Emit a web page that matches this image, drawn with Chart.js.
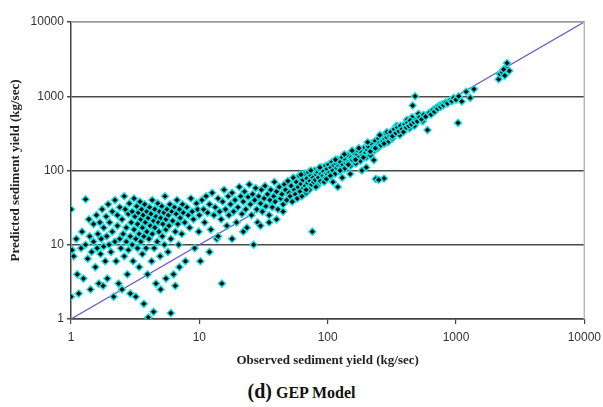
<!DOCTYPE html>
<html>
<head>
<meta charset="utf-8">
<script src="https://cdn.jsdelivr.net/npm/chart.js@4/dist/chart.umd.min.js"></script>
<style>
  html, body { margin: 0; padding: 0; background: #fff; overflow: hidden; }
  #wrap { position: relative; width: 603px; height: 407px; overflow: hidden; }
  #box { position: absolute; left: 0; top: 0; width: 607px; height: 374px; }
  #caption {
    position: absolute; left: 0; top: 380px; width: 603px; text-align: center;
    font-family: "Liberation Serif", "Times New Roman", serif; font-weight: bold; color: #111;
  }
  #caption .d { font-size: 20px; }
  #caption .m { font-size: 16px; }
</style>
</head>
<body>
<div id="wrap">
  <div id="box"><canvas id="chart"></canvas></div>
  <div id="caption"><span class="d">(d)</span> <span class="m">GEP Model</span></div>
</div>
<script>
"use strict";

// decade ticks shared by both log axes
const decadeTicks = [1, 10, 100, 1000, 10000];

// 1:1 reference line end points
const lineX = [1, 10000];
const lineY = [1, 10000];

// observed (x) vs predicted (y) sediment yield, kg/sec
const observed = [
  1.0, 1.0, 1.02, 1.05, 1.1, 1.12, 1.15, 1.2, 1.22, 1.25, 1.3, 1.3, 1.35, 1.38, 1.4, 1.42, 1.45, 1.5, 1.5, 1.55,
  1.58, 1.6, 1.62, 1.65, 1.68, 1.7, 1.72, 1.75, 1.78, 1.8, 1.8, 1.85, 1.88, 1.9, 1.92, 1.95, 1.98, 2.0,
  2.05, 2.1, 2.1, 2.15, 2.2, 2.2, 2.25, 2.3, 2.3, 2.35, 2.4, 2.4, 2.45, 2.5, 2.5, 2.55, 2.6, 2.6, 2.65, 2.7,
  2.7, 2.75, 2.8, 2.8, 2.85, 2.9, 2.9, 2.95, 3.0, 3.0, 3.05, 3.1, 3.1, 3.15, 3.2, 3.2, 3.25, 3.3, 3.3, 3.35,
  3.4, 3.4, 3.45, 3.5, 3.5, 3.55, 3.6, 3.6, 3.65, 3.7, 3.7, 3.75, 3.8, 3.85, 3.9, 3.9, 3.95, 4.0,
  4.0, 4.05, 4.1, 4.15, 4.2, 4.25, 4.3, 4.3, 4.4, 4.4, 4.45, 4.5, 4.5, 4.6, 4.6, 4.7, 4.75, 4.8, 4.85, 4.9,
  4.95, 5.0, 5.0, 5.1, 5.15, 5.2, 5.3, 5.35, 5.4, 5.5, 5.5, 5.6, 5.7, 5.75, 5.8, 5.9, 6.0, 6.0, 6.1, 6.2,
  6.3, 6.4, 6.5, 6.6, 6.7, 6.8, 6.9, 7.0, 7.1, 7.3, 7.4, 7.5, 7.7, 7.8, 8.0, 8.2, 8.4, 8.6, 8.8, 9.0,
  9.2, 9.5, 9.7, 9.9, 10, 5.5, 6.5, 7.0,
  10.2, 10.5, 10.8, 11, 11.3, 11.6, 12, 12.3, 12.6, 13, 13.3, 13.7, 14, 14.4, 14.8, 15, 15.2, 15.6, 16, 16.4,
  16.8, 17, 17.5, 18, 18.5, 19, 19.5, 20, 20.5, 21, 21.5, 22, 22.5, 23, 23.5, 24, 24.5, 25, 25.5, 26,
  26.5, 27, 27.5, 28, 28.5, 29, 30, 30.5, 31, 32, 32.5, 33, 34, 35, 35.5, 36, 37, 38, 38.5, 39,
  40, 41, 42, 43, 44, 45, 46, 47, 48, 49, 50, 12, 14, 18, 22, 30, 35, 40, 45,
  51, 52, 53, 54, 55, 56, 57, 58, 59, 60, 61, 62, 63, 64, 65, 66, 67, 68, 69, 70,
  71, 72, 73, 74, 75, 76, 77, 78, 79, 80, 82, 83, 84, 85, 86, 88, 89, 90, 92, 93,
  95, 96, 98, 99, 100, 62, 68, 74, 81, 87, 94,
  102, 104, 106, 108, 110, 112, 114, 116, 118, 120, 122, 124, 126, 128, 130, 132, 135, 138, 140, 143,
  146, 150, 153, 156, 160, 163, 166, 170, 173, 176, 180, 184, 188, 192, 196, 200, 204, 208, 212, 216,
  220, 225, 230, 235, 240, 245, 250, 255, 260, 265, 270, 275, 280, 285, 290, 295, 300,
  98, 130, 150, 185, 200, 229, 237, 250, 110, 120,
  105, 115, 125, 135, 145, 155, 165, 175, 190, 205, 215, 235, 255, 275, 290, 320, 345, 365, 395, 415,
  435, 455, 475, 510, 550,
  310, 320, 330, 340, 350, 360, 370, 380, 390, 400, 410, 420, 430, 440, 450, 460, 470, 480, 490, 500,
  520, 540, 560, 580, 600, 620, 640, 660, 680, 700, 720, 740, 760, 780, 800, 830, 860, 900, 930, 960,
  1000, 1037, 1050, 1110, 1290, 1380, 1200,
  2150, 2200, 2300, 2400, 2450, 2500, 2600, 2350
];
const predicted = [
  30, 2.0, 8.5, 7, 12, 4, 2.2, 9, 15, 3.5, 41, 10, 6.5, 22, 13, 2.5, 8, 11, 19, 5,
  25, 9, 14, 3, 20, 7.5, 12, 30, 2.8, 17, 9.5, 6, 24, 13, 3.5, 35, 10, 20,
  8, 28, 15, 2, 11, 40, 6, 18, 25, 3, 12, 32, 9, 2.5, 22, 14, 45, 7, 30, 17,
  11, 4, 26, 8.5, 36, 13, 2.2, 20, 10, 28, 6, 42, 16, 24, 12, 2.0, 33, 9, 19, 27,
  14, 5, 38, 22, 11, 30, 17, 7.5, 25, 13, 1.6, 35, 20, 9, 28, 15, 4, 23,
  1.05, 12, 32, 18, 26, 6, 40, 14, 21, 1.25, 9, 30, 17, 24, 3, 11, 36, 20, 15, 28,
  7, 23, 2.5, 33, 13, 19, 27, 10, 45, 22, 16, 30, 8, 25, 18, 35, 12, 1.2, 28, 21,
  4, 32, 15, 26, 40, 19, 10, 30, 23, 14, 35, 27, 20, 6, 32, 25, 17, 42, 28, 22,
  9, 36, 30, 15, 25, 3.5, 2.8, 5,
  6, 40, 30, 20, 45, 27, 35, 16, 50, 25, 32, 12, 42, 28, 22, 3, 38, 55, 30, 18,
  45, 25, 35, 50, 28, 40, 20, 32, 60, 45, 26, 38, 52, 30, 17, 44, 65, 35, 25, 48,
  10, 40, 58, 30, 20, 45, 36, 55, 28, 42, 62, 33, 48, 25, 40, 55, 32, 45, 70, 38,
  52, 30, 60, 42, 48, 35, 65, 55, 40, 72, 50, 8, 13, 12, 15, 18, 20, 22, 28,
  45, 62, 38, 80, 55, 48, 70, 42, 60, 85, 52, 66, 45, 75, 58, 90, 62, 50, 78, 68,
  95, 55, 72, 85, 65, 15, 80, 70, 100, 75, 88, 62, 95, 80, 105, 72, 90, 110, 85, 98,
  78, 115, 92, 105, 88, 88, 55, 100, 60, 110, 70,
  120, 95, 110, 130, 100, 118, 90, 125, 108, 140, 115, 98, 130, 112, 150, 120, 105, 140, 125, 160,
  130, 115, 150, 140, 170, 145, 125, 160, 185, 150, 135, 175, 160, 200, 170, 150, 190, 210, 175, 160,
  230, 200, 185, 250, 215, 200, 270, 235, 220, 290, 250, 78, 265, 310, 280, 240, 300,
  77, 80, 90, 100, 110, 138, 77, 75, 70, 60,
  85, 140, 100, 165, 120, 185, 140, 200, 150, 240, 180, 200, 300, 230, 330, 270, 400, 300, 360, 480,
  370, 520, 400, 580, 460,
  330, 290, 360, 320, 380, 340, 400, 360, 330, 420, 380, 440, 400, 470, 420, 750, 450, 1000, 480, 460,
  520, 490, 560, 530, 350, 600, 570, 650, 620, 700, 680, 750, 720, 780, 760, 820, 800, 880, 860, 950,
  900, 437, 1000, 850, 950, 1250, 1150,
  1700, 2000, 2100, 1900, 2400, 2800, 2200, 2300
];

const points = observed.map((x, i) => ({ x: x, y: predicted[i] }));
const refLine = lineX.map((x, i) => ({ x: x, y: lineY[i] }));

// light grey top/right frame like the original plot box
const framePlugin = {
  id: "frame",
  afterDraw(chart) {
    const a = chart.chartArea, ctx = chart.ctx;
    ctx.save();
    ctx.strokeStyle = "#b8b8b8";
    ctx.lineWidth = 1.5;
    ctx.beginPath();
    ctx.moveTo(a.left, a.top);
    ctx.lineTo(a.right, a.top);
    ctx.lineTo(a.right, a.bottom);
    ctx.stroke();
    ctx.restore();
  }
};

const fixDecades = axis => {
  axis.ticks = decadeTicks.map(v => ({ value: v }));
};

new Chart(document.getElementById("chart"), {
  data: {
    datasets: [
      {
        type: "line", data: refLine, borderColor: "#6a5acd", borderWidth: 1.3,
        pointRadius: 0, fill: false, order: 2
      },
      {
        type: "scatter", data: points, pointStyle: "rectRot", pointRadius: 3.6,
        backgroundColor: "#0a0a0a", borderColor: "#19e0e0", borderWidth: 1.4, order: 1
      }
    ]
  },
  options: {
    responsive: true, maintainAspectRatio: false, animation: false,
    layout: { padding: { top: 22, right: 4, left: 4, bottom: 2 } },
    plugins: { legend: { display: false }, tooltip: { enabled: false } },
    scales: {
      x: {
        type: "logarithmic", min: 1, max: 10000,
        afterBuildTicks: fixDecades,
        border: { color: "#444", width: 1.5 },
        grid: { drawOnChartArea: false, drawTicks: true, tickLength: 5, color: "#444", lineWidth: 1.2 },
        ticks: { color: "#333", font: { family: "'Liberation Sans', Arial", size: 12 }, padding: 6, maxRotation: 0,
          callback: v => String(v) },
        title: { display: true, text: "Observed sediment yield (kg/sec)", color: "#222",
          font: { family: "'Liberation Serif', 'Times New Roman', serif", size: 13, weight: "bold" }, padding: { top: 2 } }
      },
      y: {
        type: "logarithmic", min: 1, max: 10000,
        afterBuildTicks: fixDecades,
        border: { color: "#444", width: 1.5 },
        grid: { color: "#4a4a4a", lineWidth: 1.5, tickLength: 4 },
        ticks: { color: "#333", font: { family: "'Liberation Sans', Arial", size: 12 }, padding: 3,
          callback: v => String(v) },
        title: { display: true, text: "Predicted sediment yield (kg/sec)", color: "#222",
          font: { family: "'Liberation Serif', 'Times New Roman', serif", size: 13, weight: "bold" }, padding: { bottom: 4 } }
      }
    }
  },
  plugins: [framePlugin]
});
</script>
</body>
</html>
